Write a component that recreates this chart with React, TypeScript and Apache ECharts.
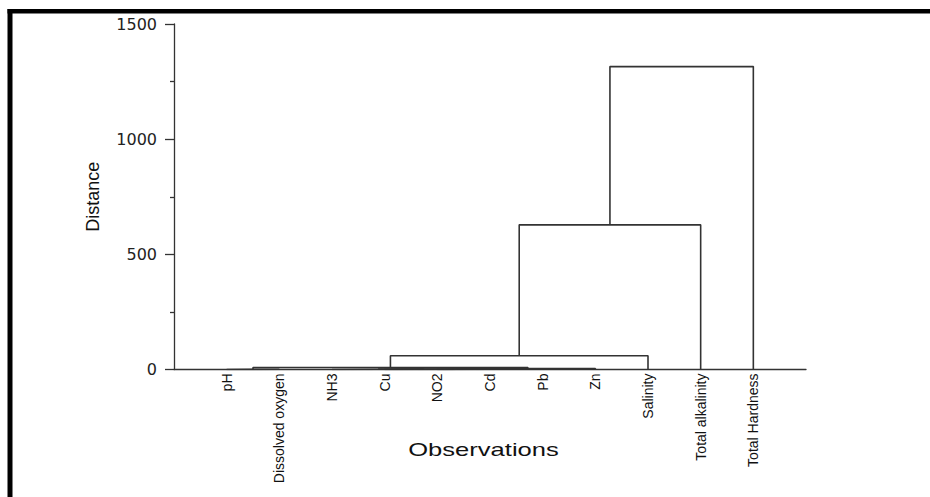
import React, { useEffect, useRef } from "react";
import * as echarts from "echarts";

// Leaves (observations) in dendrogram order
const categories = [
  "pH",
  "Dissolved oxygen",
  "NH3",
  "Cu",
  "NO2",
  "Cd",
  "Pb",
  "Zn",
  "Salinity",
  "Total alkalinity",
  "Total Hardness",
];

// Merges: ids 0..10 are leaves, each merge creates id 11, 12, ...
const mergeLeft = [4, 3, 2, 13, 14, 0, 16, 17, 18, 19];
const mergeRight = [5, 11, 12, 6, 7, 1, 15, 8, 9, 10];
const mergeHeight = [0.8, 1.6, 2.4, 3.2, 4.5, 1.2, 9, 60, 628, 1315];

const yTicks = [0, 500, 1000, 1500];

export default function App() {
  const ref = useRef<HTMLDivElement>(null);

  useEffect(() => {
    if (!ref.current) return;
    const chart = echarts.init(ref.current, undefined, { renderer: "svg" });

    const nodeX: number[] = categories.map((_, i) => i + 1);
    const nodeH: number[] = categories.map(() => 0);
    const series: any[] = [];
    mergeLeft.forEach((l, k) => {
      const r = mergeRight[k];
      const h = mergeHeight[k];
      const xl = nodeX[l];
      const xr = nodeX[r];
      series.push({
        type: "line",
        data: [
          [xl, nodeH[l]],
          [xl, h],
          [xr, h],
          [xr, nodeH[r]],
        ],
        symbol: "none",
        silent: true,
        lineStyle: { color: "#333", width: 1.6 },
      });
      nodeX.push((xl + xr) / 2);
      nodeH.push(h);
    });

    chart.setOption({
      animation: false,
      backgroundColor: "#fff",
      grid: { left: 174, right: 124, top: 24, bottom: 127.5 },
      xAxis: {
        type: "value",
        min: 0,
        max: categories.length + 1,
        interval: 1,
        axisLine: { show: true, lineStyle: { color: "#333", width: 1.3 } },
        axisTick: { show: false },
        splitLine: { show: false },
        axisLabel: {
          rotate: 90,
          margin: 4,
          fontSize: 14,
          fontFamily: "Liberation Sans",
          color: "#111",
          formatter: (v: number) => categories[Math.round(v) - 1] ?? "",
        },
      },
      yAxis: {
        type: "value",
        min: yTicks[0],
        max: yTicks[yTicks.length - 1],
        interval: yTicks[1] - yTicks[0],
        name: "Distance",
        nameLocation: "middle",
        nameGap: 72,
        nameTextStyle: {
          fontSize: 18,
          fontFamily: "Liberation Sans",
          color: "#111",
        },
        axisLine: { show: true, lineStyle: { color: "#333", width: 1.3 } },
        axisTick: { show: true, inside: false, length: 9, lineStyle: { color: "#333", width: 1.3 } },
        minorTick: { show: true, splitNumber: 2, length: 4, lineStyle: { color: "#333", width: 1.3 } },
        splitLine: { show: false },
        minorSplitLine: { show: false },
        axisLabel: {
          margin: 17,
          fontSize: 16,
          fontFamily: "DejaVu Sans",
          color: "#222",
          formatter: (v: number) => String(v),
        },
      },
      graphic: [
        {
          type: "rect",
          shape: { x: 7.5, y: 9, width: 5, height: 500 },
          style: { fill: "#000" },
          silent: true,
        },
        {
          type: "rect",
          shape: { x: 7.5, y: 9, width: 930, height: 4.5 },
          style: { fill: "#000" },
          silent: true,
        },
        {
          type: "text",
          x: 483.5,
          y: 450,
          scaleX: 1.42,
          style: {
            text: "Observations",
            fontSize: 18,
            fontFamily: "Liberation Sans",
            fill: "#111",
            textAlign: "center",
            textVerticalAlign: "middle",
          },
          silent: true,
        },
      ],
      series,
    });

    return () => chart.dispose();
  }, []);

  return (
    <div
      ref={ref}
      style={{ position: "fixed", left: 0, top: 0, width: 930, height: 497 }}
    />
  );
}
